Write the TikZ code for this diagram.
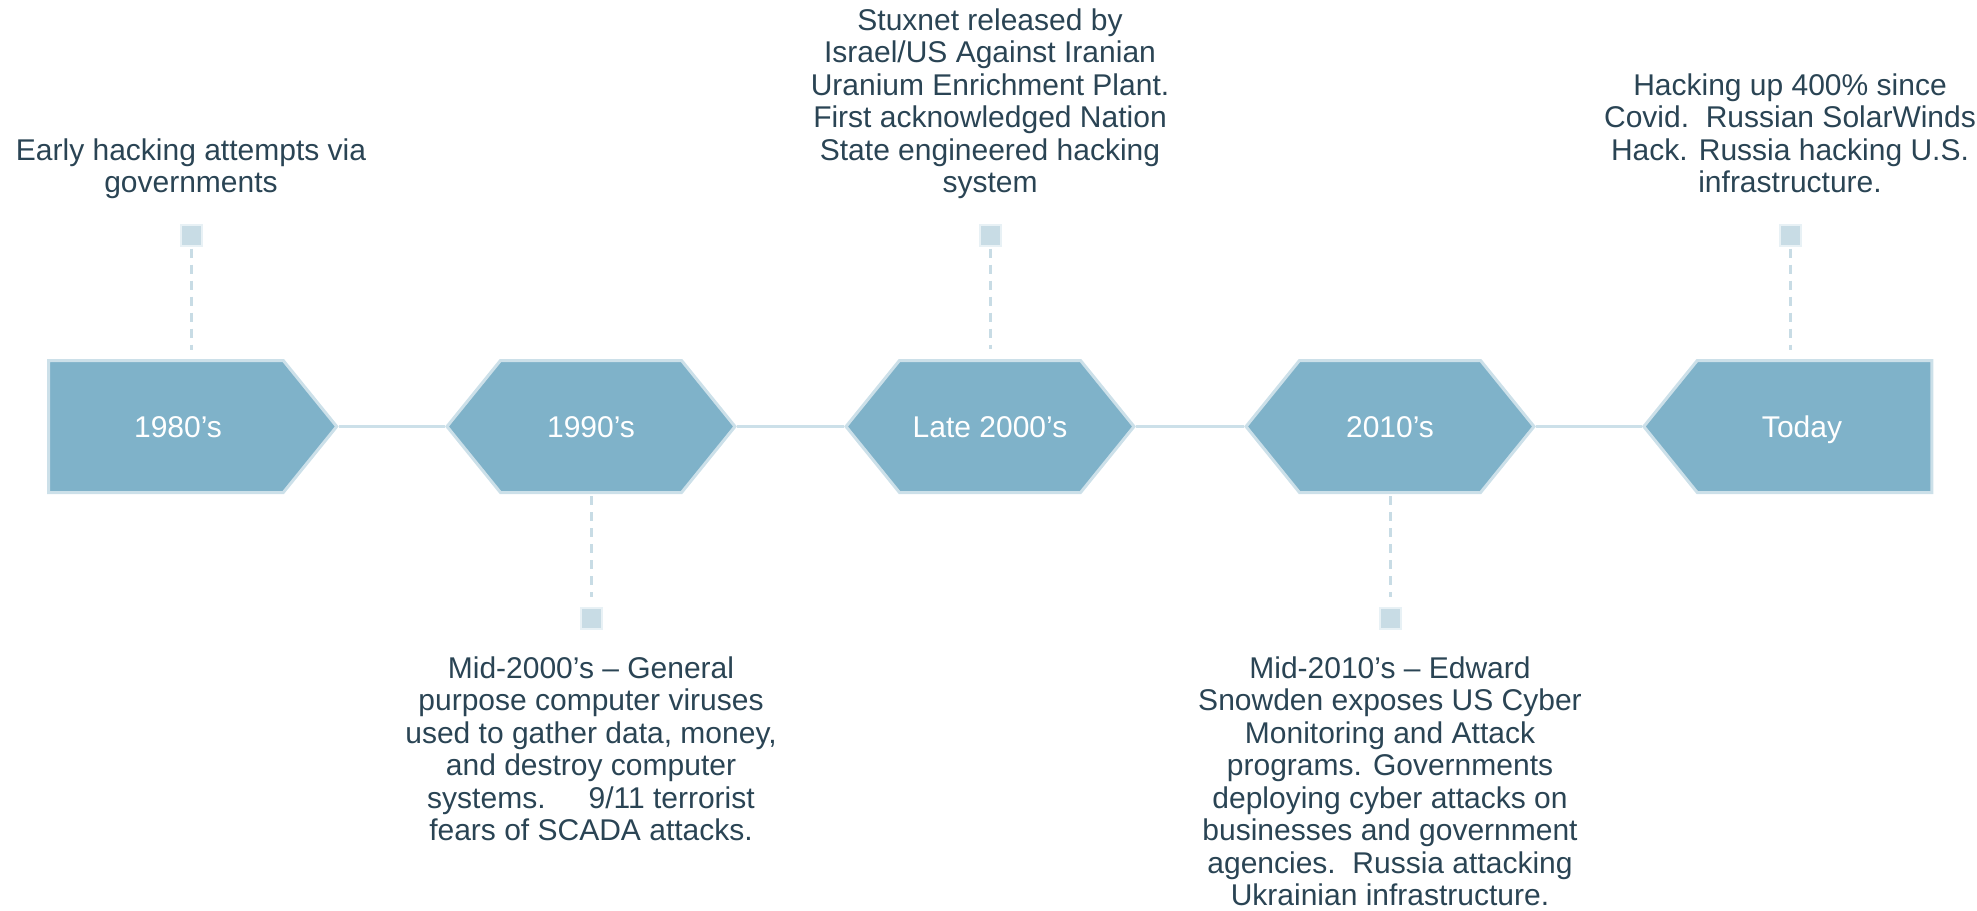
\documentclass[tikz,border=0pt]{standalone}
\usepackage{fontspec}
\setmainfont{Liberation Sans}
\usepackage{xcolor}
\usepackage{tikz}
\usetikzlibrary{shapes.symbols}

\definecolor{eraFill}{HTML}{7FB2C9}
\definecolor{eraLine}{HTML}{CCE0E9}
\definecolor{pinFill}{HTML}{C8DCE5}
\definecolor{pinLine}{HTML}{E8F1F5}
\definecolor{noteText}{HTML}{2A4454}

\begin{document}
\begin{tikzpicture}[x=1pt, y=-1pt,
  era/.style={signal, draw=eraLine, fill=eraFill, line width=3pt,
              signal pointer angle=102, minimum width=288pt, minimum height=132pt,
              inner sep=0pt},
  lbl/.style={text=white, font=\fontsize{30}{30}\selectfont, anchor=base, inner sep=0pt},
  pin/.style={draw=pinLine, fill=pinFill, line width=2pt, minimum size=21pt, inner sep=0pt},
  stem/.style={draw=pinFill, line width=3pt, dash pattern=on 9pt off 7pt,
               shorten <=2pt, shorten >=9.5pt},
  link/.style={draw=eraLine, line width=3pt},
  note/.style={text=noteText, align=center, font=\fontsize{30}{32.5}\selectfont, inner sep=0pt}
]
  \useasboundingbox (0,0) rectangle (1977,910);
  % Era shapes along the time line
  \node[era, signal to=east]          (e1980)  at (166,426.5)  {};
  \node[era, signal to=east and west] (e1990)  at (591,426.5)  {};
  \node[era, signal to=east and west] (e2000)  at (990,426.5)  {};
  \node[era, signal to=east and west] (e2010)  at (1390,426.5) {};
  \node[era, signal to=west]          (etoday) at (1814.5,426.5) {};
  \node[lbl] (l1980)  at (178,437)  {1980’s};
  \node[lbl] (l1990)  at (591,437)  {1990’s};
  \node[lbl] (l2000)  at (990,437)  {Late 2000’s};
  \node[lbl] (l2010)  at (1390,437) {2010’s};
  \node[lbl] (ltoday) at (1802,437) {Today};
  % Links between eras
  \draw[link] (e1980) -- (e1990);
  \draw[link] (e1990) -- (e2000);
  \draw[link] (e2000) -- (e2010);
  \draw[link] (e2010) -- (etoday);
  % Pins and dashed stems
  \node[pin] (p1980)  at (191,235)  {};
  \node[pin] (p1990)  at (591,618)  {};
  \node[pin] (p2000)  at (990,235)  {};
  \node[pin] (p2010)  at (1390,618) {};
  \node[pin] (ptoday) at (1790,235) {};
  \draw[stem] (p1980)  -- (p1980 |- e1980.north);
  \draw[stem] (e1990)  -- (p1990);
  \draw[stem] (p2000)  -- (e2000);
  \draw[stem] (e2010)  -- (p2010);
  \draw[stem] (ptoday) -- (ptoday |- etoday.north);
  % Notes
  \node[note, anchor=south] (n1980) at (191,199.3)
    {Early hacking attempts via\\governments\vphantom{g}};
  \node[note, anchor=north] (n1990) at (591,656.5)
    {Mid-2000’s – General\\purpose computer viruses\\used to gather data, money,\\and destroy computer\\systems.\hspace{43pt}9/11 terrorist\\fears of SCADA attacks.};
  \node[note, anchor=south] (n2000) at (990,199.3)
    {Stuxnet released by\\Israel/US Against Iranian\\Uranium Enrichment Plant.\\First acknowledged Nation\\State engineered hacking\\system\vphantom{g}};
  \node[note, anchor=north] (n2010) at (1390,656.5)
    {Mid-2010’s – Edward\\Snowden exposes US Cyber\\Monitoring and Attack\\programs. Governments\\deploying cyber attacks on\\businesses and government\\agencies.\ \ Russia attacking\\Ukrainian infrastructure.};
  \node[note, anchor=south] (ntoday) at (1790,199.3)
    {Hacking up 400\% since\\Covid.\ \ Russian SolarWinds\\Hack. Russia hacking U.S.\\infrastructure.\vphantom{g}};
\end{tikzpicture}
\end{document}
